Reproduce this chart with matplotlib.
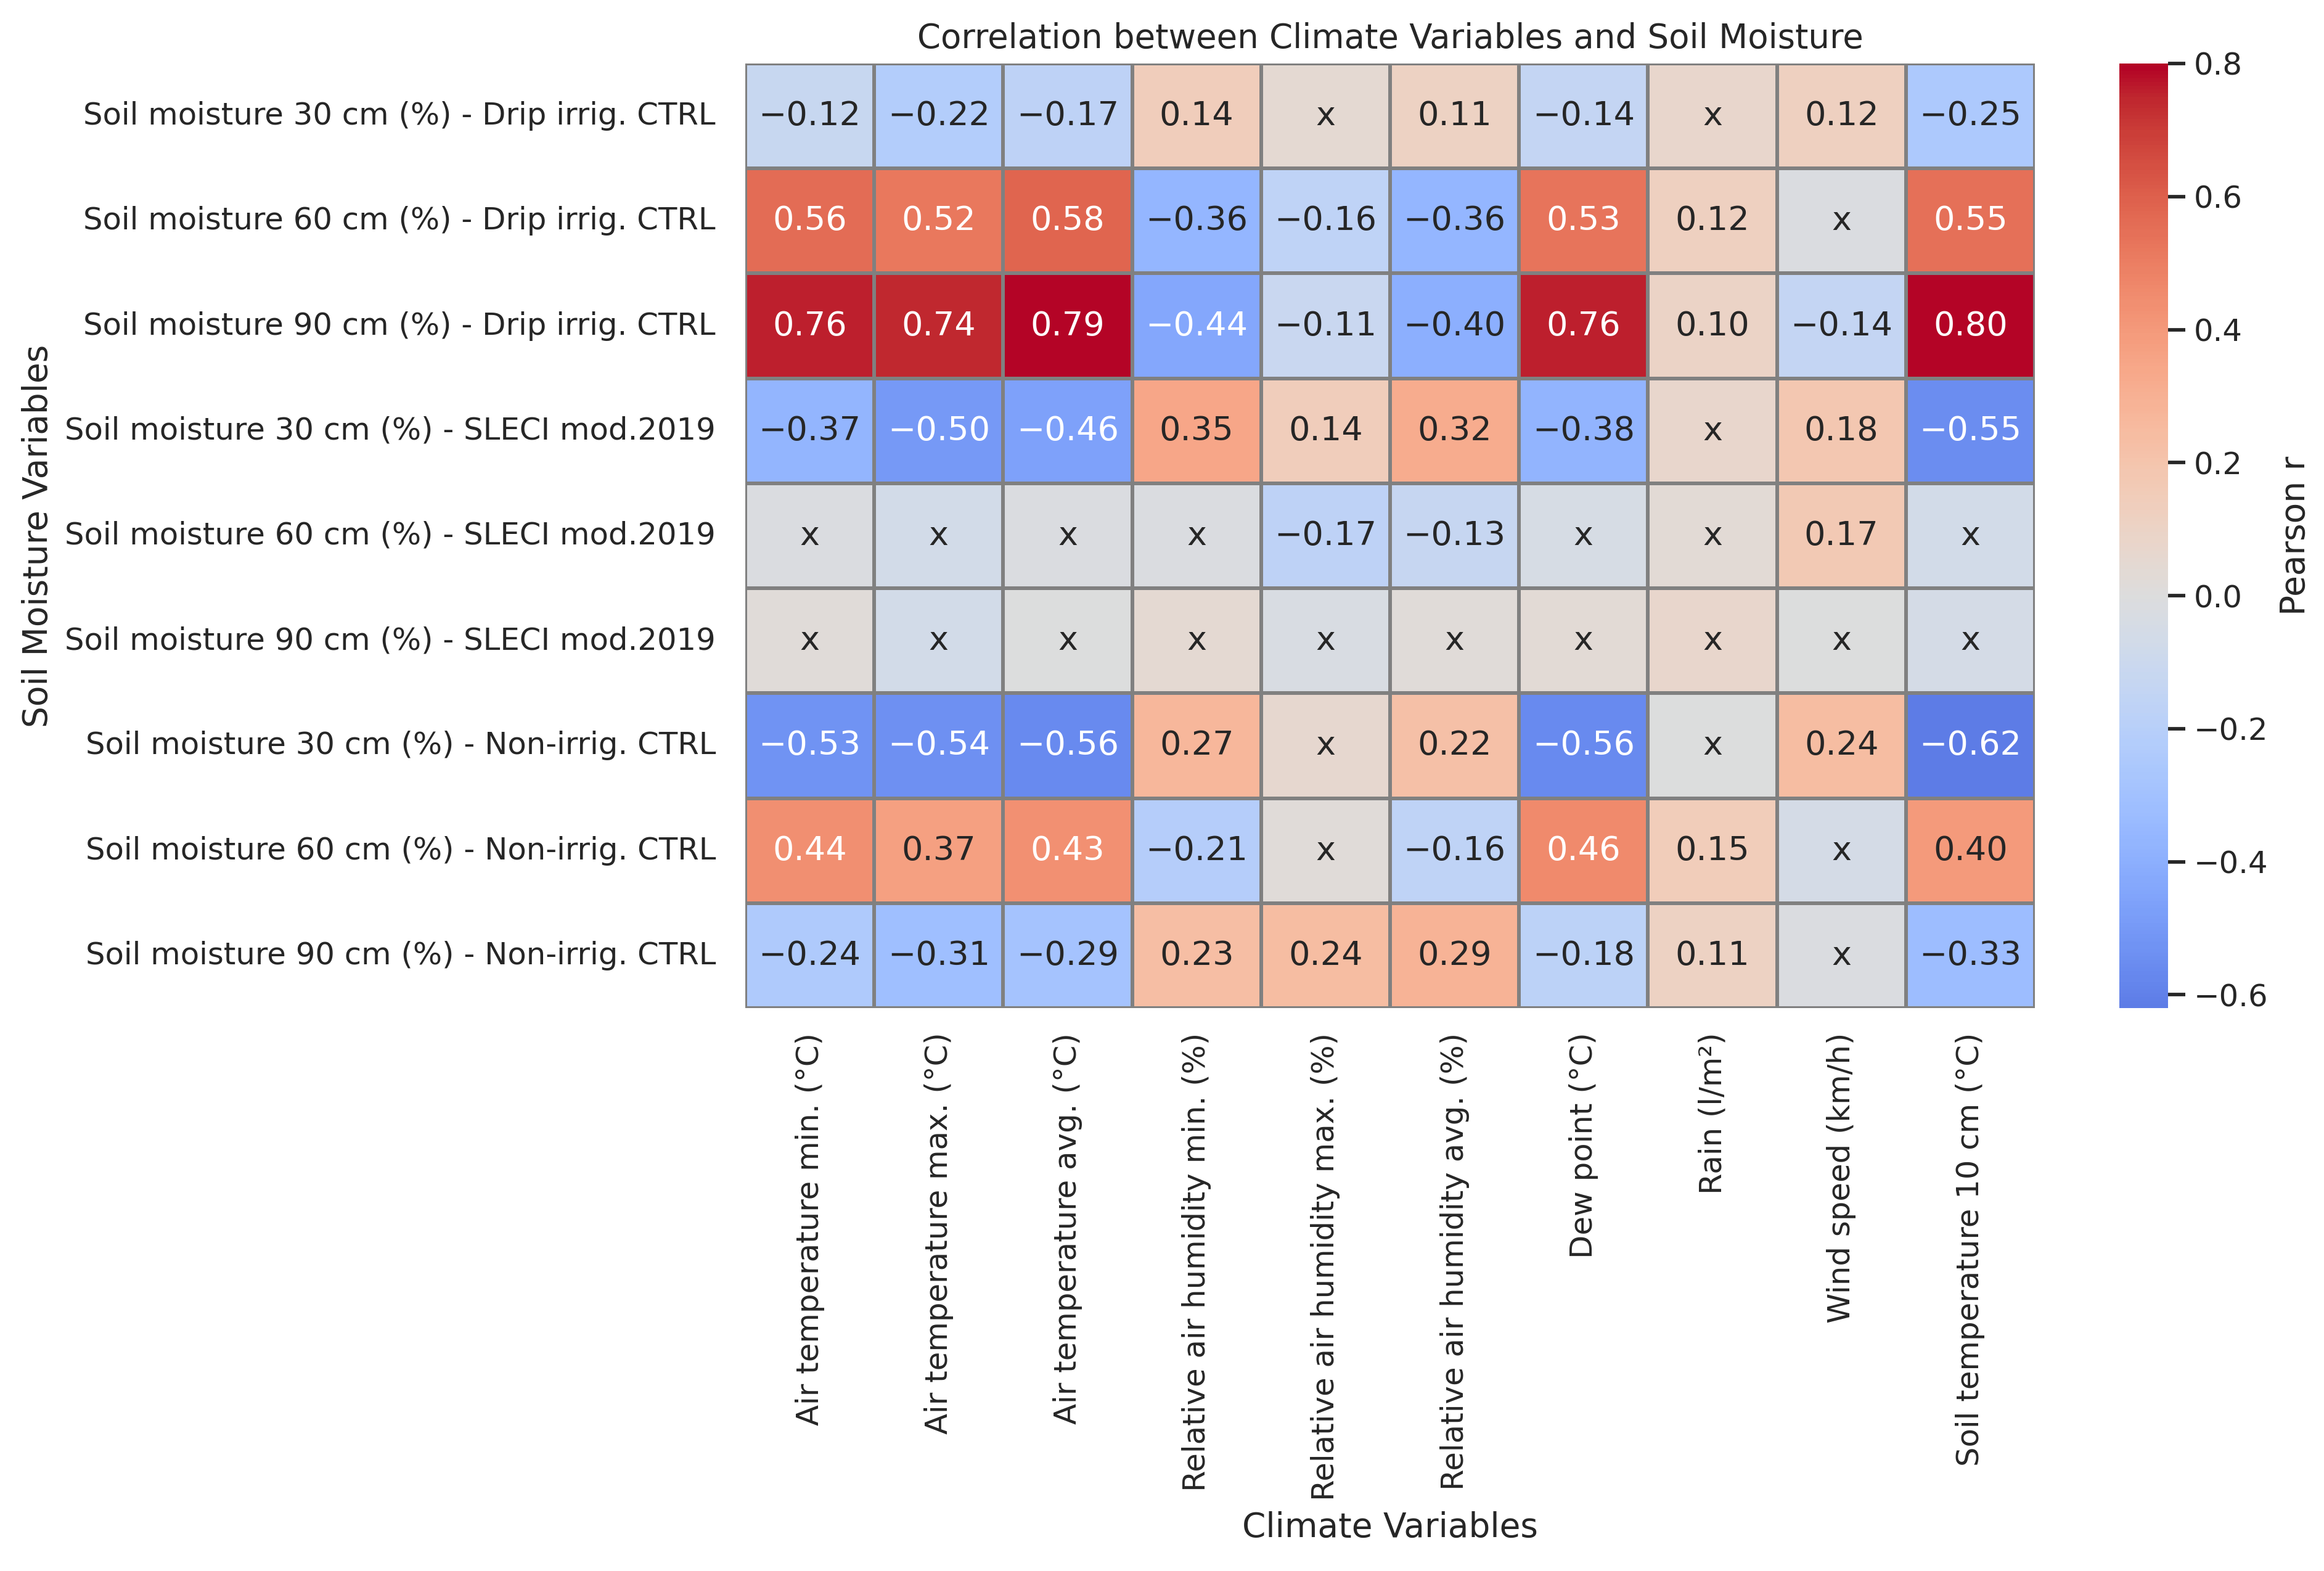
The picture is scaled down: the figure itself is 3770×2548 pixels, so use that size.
import numpy as np
import matplotlib
matplotlib.use("Agg")
import matplotlib.pyplot as plt
import seaborn as sns

rows = [
    "Soil moisture 30 cm (%) - Drip irrig. CTRL",
    "Soil moisture 60 cm (%) - Drip irrig. CTRL",
    "Soil moisture 90 cm (%) - Drip irrig. CTRL",
    "Soil moisture 30 cm (%) - SLECI mod.2019",
    "Soil moisture 60 cm (%) - SLECI mod.2019",
    "Soil moisture 90 cm (%) - SLECI mod.2019",
    "Soil moisture 30 cm (%) - Non-irrig. CTRL",
    "Soil moisture 60 cm (%) - Non-irrig. CTRL",
    "Soil moisture 90 cm (%) - Non-irrig. CTRL",
]
cols = [
    "Air temperature min. (°C)",
    "Air temperature max. (°C)",
    "Air temperature avg. (°C)",
    "Relative air humidity min. (%)",
    "Relative air humidity max. (%)",
    "Relative air humidity avg. (%)",
    "Dew point (°C)",
    "Rain (l/m²)",
    "Wind speed (km/h)",
    "Soil temperature 10 cm (°C)",
]

# Pearson r (estimated from colour for non-significant cells)
r_drip30  = [-0.12, -0.22, -0.17,  0.14,  0.05,  0.11, -0.14,  0.07,  0.12, -0.25]
r_drip60  = [ 0.56,  0.52,  0.58, -0.36, -0.16, -0.36,  0.53,  0.12, -0.01,  0.55]
r_drip90  = [ 0.76,  0.74,  0.79, -0.44, -0.11, -0.40,  0.76,  0.10, -0.14,  0.80]
r_sleci30 = [-0.37, -0.50, -0.46,  0.35,  0.14,  0.32, -0.38,  0.07,  0.18, -0.55]
r_sleci60 = [-0.01, -0.07, -0.02, -0.02, -0.17, -0.13, -0.04,  0.03,  0.17, -0.07]
r_sleci90 = [ 0.02, -0.07,  0.00,  0.05, -0.03,  0.02,  0.03,  0.07,  0.00, -0.05]
r_non30   = [-0.53, -0.54, -0.56,  0.27,  0.06,  0.22, -0.56,  0.00,  0.24, -0.62]
r_non60   = [ 0.44,  0.37,  0.43, -0.21,  0.02, -0.16,  0.46,  0.15, -0.05,  0.40]
r_non90   = [-0.24, -0.31, -0.29,  0.23,  0.24,  0.29, -0.18,  0.11, -0.01, -0.33]

# significance flags (1 = significant, shown as value; 0 = shown as "x")
s_drip30  = [1, 1, 1, 1, 0, 1, 1, 0, 1, 1]
s_drip60  = [1, 1, 1, 1, 1, 1, 1, 1, 0, 1]
s_drip90  = [1, 1, 1, 1, 1, 1, 1, 1, 1, 1]
s_sleci30 = [1, 1, 1, 1, 1, 1, 1, 0, 1, 1]
s_sleci60 = [0, 0, 0, 0, 1, 1, 0, 0, 1, 0]
s_sleci90 = [0, 0, 0, 0, 0, 0, 0, 0, 0, 0]
s_non30   = [1, 1, 1, 1, 0, 1, 1, 0, 1, 1]
s_non60   = [1, 1, 1, 1, 0, 1, 1, 1, 0, 1]
s_non90   = [1, 1, 1, 1, 1, 1, 1, 1, 0, 1]

R = np.array([r_drip30, r_drip60, r_drip90, r_sleci30, r_sleci60,
              r_sleci90, r_non30, r_non60, r_non90])
S = np.array([s_drip30, s_drip60, s_drip90, s_sleci30, s_sleci60,
              s_sleci90, s_non30, s_non60, s_non90])

labels = np.empty(R.shape, dtype=object)
for i in range(R.shape[0]):
    for j in range(R.shape[1]):
        labels[i, j] = f"{R[i, j]:.2f}".replace("-", "\u2212") if S[i, j] else "x"

sns.set_theme(style="white", font_scale=1.1)
plt.rcParams["xtick.labelsize"] = 11.95
plt.rcParams["ytick.labelsize"] = 11.95

fig = plt.figure(figsize=(3770 / 300, 2548 / 300), dpi=300)
ax = fig.add_axes([0.3207, 0.3583, 0.8756 - 0.3207, 0.9596 - 0.3583])
cax = fig.add_axes([0.912, 0.3583, 0.9329 - 0.912, 0.9596 - 0.3583])

sns.heatmap(R, ax=ax, cbar_ax=cax, cmap="coolwarm", center=0,
            annot=labels, fmt="", linewidths=1, linecolor="gray",
            annot_kws={"size": 13.0},
            xticklabels=cols, yticklabels=rows,
            cbar_kws={"label": "Pearson r"})

ax.set_title("Correlation between Climate Variables and Soil Moisture", fontsize=13.1)
ax.set_xlabel("Climate Variables")
ax.set_ylabel("Soil Moisture Variables")
ax.tick_params(axis="x", rotation=90)
ax.tick_params(axis="y", rotation=0, pad=5.5)
cax.tick_params(axis="y", right=True, length=6.6, width=1.375)

fig.savefig("out.png", dpi=300)
